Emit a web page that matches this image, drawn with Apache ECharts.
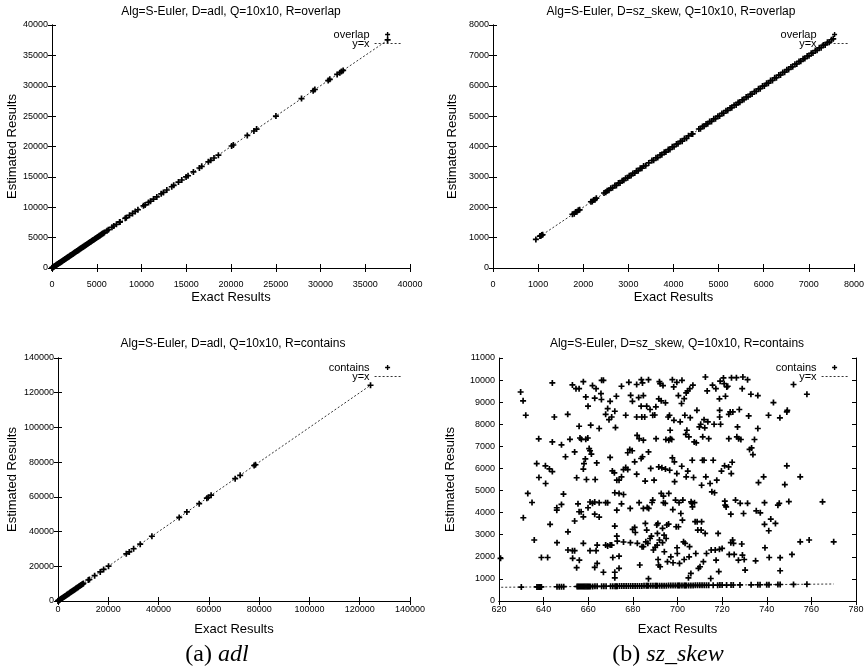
<!DOCTYPE html>
<html><head><meta charset="utf-8">
<script src="https://cdn.jsdelivr.net/npm/echarts@6/dist/echarts.min.js"></script>
<style>html,body{margin:0;padding:0;background:#fff}#c{width:867px;height:671px}</style>
</head><body><div id="c"></div>
<script>
// ---------- DATA ----------
const titles = [
  'Alg=S-Euler, D=adl, Q=10x10, R=overlap',
  'Alg=S-Euler, D=sz_skew, Q=10x10, R=overlap',
  'Alg=S-Euler, D=adl, Q=10x10, R=contains',
  'Alg=S-Euler, D=sz_skew, Q=10x10, R=contains'
];
const seriesNames = ['overlap', 'overlap', 'contains', 'contains'];
const refName = 'y=x';
const xName = 'Exact Results';
const yName = 'Estimated Results';
const captionA = ['(a) ', 'adl'];
const captionB = ['(b) ', 'sz_skew'];

// axis ranges [min, max, interval]
const xRanges = [[0, 40000, 5000], [0, 8000, 1000], [0, 140000, 20000], [620, 780, 20]];
const yRanges = [[0, 40000, 5000], [0, 8000, 1000], [0, 140000, 20000], [0, 11000, 1000]];

// y=x reference line extents (x from, x to)
const refAdlOverlap = [0, 37500];
const refSzOverlap = [950, 7540];
const refAdlContains = [0, 124300];
const refSzContains = [621, 770];

// (exact, estimated)
const adlOverlap = [[0,0],[40,50],[90,80],[150,160],[210,200],[260,270],[320,310],[380,390],[450,440],[510,520],[570,560],[640,650],[700,690],[770,780],[830,820],[900,910],[960,950],[1030,1040],[1100,1090],[1160,1170],[1230,1220],[1300,1310],[1370,1360],[1430,1440],[1500,1490],[1570,1580],[1640,1630],[1710,1720],[1780,1770],[1850,1860],[1920,1910],[2000,2010],[2070,2060],[2140,2150],[2210,2200],[2290,2300],[2360,2350],[2430,2440],[2510,2500],[2580,2590],[2650,2640],[2730,2740],[2800,2790],[2880,2890],[2950,2940],[3030,3040],[3100,3090],[3180,3190],[3250,3240],[3330,3340],[3410,3400],[3480,3490],[3560,3550],[3640,3650],[3720,3710],[3790,3800],[3870,3860],[3950,3960],[4030,4020],[4110,4120],[4190,4180],[4270,4280],[4350,4340],[4430,4440],[4520,4510],[4600,4610],[4680,4670],[4770,4780],[4850,4840],[4940,4950],[5020,5010],[5110,5120],[5200,5190],[5290,5300],[5380,5370],[5470,5480],[5560,5550],[5650,5660],[5750,5740],[5850,5860],[6150,6140],[6300,6310],[6700,6690],[6900,6910],[7200,7190],[7550,7560],[7600,7590],[8180,8190],[8300,8290],[8660,8670],[9000,8990],[9300,9310],[9600,9590],[10220,10230],[10400,10390],[10780,10790],[11000,10990],[11340,11350],[11710,11700],[12200,12210],[12450,12440],[12830,12840],[13380,13370],[13600,13610],[14130,14140],[14500,14490],[14980,14990],[15200,15190],[15800,15810],[16470,16460],[16730,16740],[17470,17480],[17730,17720],[18100,18110],[18590,18580],[20070,20080],[20260,20250],[21820,21830],[22560,22550],[22860,22870],[25020,25010],[27880,27890],[29180,29170],[29370,29380],[30860,30850],[31040,31050],[31860,31870],[32160,32150],[32340,32350],[32530,32520],[37500,37550]];

const szOverlap = [[950,940],[1040,1050],[1060,1055],[1080,1085],[1100,1095],[1760,1770],[1800,1790],[1830,1840],[1860,1855],[1890,1900],[1920,1915],[2170,2180],[2200,2190],[2230,2240],[2260,2250],[2290,2300],[2460,2470],[2500,2490],[2530,2545],[2570,2560],[2610,2625],[2650,2640],[2700,2715],[2735,2720],[2780,2795],[2815,2800],[2862,2875],[2900,2885],[2938,2955],[2985,2970],[3020,3040],[3061,3045],[3098,3115],[3142,3125],[3180,3200],[3219,3205],[3263,3280],[3300,3285],[3338,3355],[3384,3370],[3452,3460],[3522,3540],[3560,3545],[3612,3630],[3651,3635],[3703,3720],[3742,3730],[3795,3810],[3832,3815],[3884,3900],[3921,3905],[3973,3990],[4012,3995],[4066,4080],[4101,4090],[4155,4170],[4192,4175],[4243,4260],[4288,4270],[4332,4350],[4400,4412],[4425,4415],[4562,4575],[4598,4585],[4643,4660],[4678,4665],[4722,4740],[4760,4750],[4802,4820],[4843,4825],[4893,4910],[4931,4915],[4984,5000],[5022,5005],[5073,5090],[5112,5095],[5163,5180],[5201,5185],[5254,5270],[5292,5275],[5343,5360],[5388,5370],[5432,5450],[5471,5455],[5523,5540],[5562,5545],[5611,5630],[5652,5635],[5704,5720],[5741,5725],[5793,5810],[5833,5815],[5884,5900],[5922,5905],[5973,5990],[6013,5995],[6064,6080],[6102,6085],[6152,6170],[6193,6175],[6243,6260],[6281,6265],[6334,6350],[6372,6355],[6422,6440],[6463,6445],[6512,6530],[6551,6535],[6603,6620],[6642,6625],[6691,6710],[6733,6715],[6782,6800],[6821,6805],[6872,6890],[6911,6895],[6962,6980],[7003,6985],[7052,7070],[7091,7075],[7143,7160],[7182,7165],[7231,7250],[7272,7255],[7322,7340],[7361,7345],[7412,7430],[7451,7435],[7500,7515],[7540,7545]];

const adlContains = [[0,0],[150,170],[350,330],[600,620],[850,830],[1100,1130],[1400,1380],[1700,1720],[2000,1980],[2300,2330],[2600,2570],[2900,2930],[3200,3180],[3500,3530],[3800,3770],[4100,4130],[4400,4380],[4700,4730],[5000,4970],[5300,5330],[5600,5580],[5900,5930],[6200,6170],[6500,6530],[6800,6780],[7100,7130],[7400,7370],[7700,7730],[8000,7980],[8300,8330],[8600,8570],[8900,8930],[9200,9180],[9500,9530],[9800,9770],[10100,10120],[12050,12100],[12500,12400],[14570,14600],[16800,16750],[18150,18200],[20100,20050],[27150,27200],[28350,28300],[30070,30100],[32700,32750],[37350,37300],[48200,48150],[51250,51300],[56150,56100],[59200,59250],[59730,59700],[60900,60950],[70460,70500],[72450,72400],[78000,78050],[78540,78500],[124300,124300]];

const szContains = [[620.7,1930],[629.7,9460],[630.8,9060],[630.9,3770],[632,8410],[632.9,4870],[634.8,4460],[635.8,2760],[636.9,6220],[637.8,7340],[637.9,5590],[639,1970],
[640.8,6120],[640.9,5320],[641.8,1970],[642.6,5980],[642.9,3470],[643.9,5860],[643.9,7200],[643.9,9870],[644.8,8330],[645.9,4220],[645.9,4110],[646,2640],[648,4370],[648,7070],[648.9,4840],[649.8,6530],[650.8,8450],[650.9,3130],[650.9,2310],[651.8,7320],[652.9,9780],[652.9,2280],[653,1930],[653.9,2280],[653.9,3620],[653.9,6750],[654.5,9610],[654.8,5580],[654.8,1510],[655.4,4400],[655.9,9610],[655.9,7910],[655.9,4040],[656,1850],[656.3,7380],[656.9,7320],[656.8,4040],[657.8,9930],[657.8,2610],[657.8,3810],[657.8,5970],[658.1,6220],[658.7,6430],[658.9,9240],[658.9,7320],[659.2,5500],[659.8,7380],[659.9,8820],[659.9,4220],
[660.4,6900],[660.8,6800],[660.8,4480],[660.8,2280],[661.1,7960],[661.4,6650],[661.9,9750],[661.9,4420],[662.9,9180],[662.9,4480],[662.9,3930],[662.9,1520],[663.1,5500],[663.5,9610],[663.5,2280],[663.8,6250],[664,2530],[664,1700],[664.9,7810],[664.9,4450],[664.9,3800],[665.7,9390],[665.9,9120],[666,9990],[666.8,9990],[666.8,1300],[667.8,8450],[667.8,4450],[667.8,2530],[668.7,8710],[668.7,4450],[668.7,2490],[669.3,8210],[669.8,9040],[669.8,6500],[669.8,2530],[670.5,8330],[670.5,2530],[670.8,5890],[671,1970],[671.7,5800],[671.9,8590],[671.9,4900],[671.9,3390],[671.9,1300],[671.9,1050],[672.2,7850],[672.6,9270],[672.8,5470],[672.8,4110],[672.8,2940],[673,2710],[673.8,5470],[673.8,4870],[673.8,2030],[673.8,1480],[674.9,9720],[674.9,5620],[674.9,4400],[675.8,5950],[675.8,4820],[675.8,2670],[676.8,8410],[676.8,6040],[677.7,6710],[677.7,5950],[678.2,9900],[678.6,6860],[678.8,4190],[678.9,2640],[679,9310],[679.7,6800],[679.8,9040],[679.9,3240],
[680.8,6300],[680.8,3330],[681.1,3100],[681.7,9800],[681.7,8330],[681.7,5740],[681.9,7500],[682,2610],[682.6,9210],[682.8,7350],[682.8,4450],[683.1,1630],[683.7,8820],[683.7,6450],[683.8,10020],[684,8330],[684.1,2460],[684.3,9870],[684.3,6530],[684.7,9300],[684.7,7280],[684.7,4190],[684.7,2460],[685.3,8330],[685.5,5430],[685.6,3510],[685.8,2680],[686.2,8820],[686.2,3210],[686.4,4230],[686.7,2610],[687,10020],[687,6750],[687,1010],[687.1,4190],[687.7,8670],[687.7,2830],[688,6000],[688.3,2940],[688.6,4460],[688.9,8410],[688.9,4570],[689.2,2310],[689.5,5470],[689.8,8420],[690,2430],[690.3,8790],[690.4,7350],[690.7,3440],[690.9,2530],[691,3060],[691.2,3510],[691.3,1880],[691.5,1630],[691.6,9150],[691.6,6070],[691.9,9930],[691.9,2760],[692.2,9840],[692.2,1550],[692.7,9060],[692.7,4870],[693,6030],[693.3,3290],[693.3,2640],[693.5,9750],[693.7,4750],[693.7,4450],[694,2980],[694.1,2230],[694.5,4420],[694.6,8970],[694.6,5970],[694.8,7310],[694.9,2830],[695.2,3440],[695.5,1780],[695.8,8330],[696,3480],[696.1,7280],[696.1,4870],[696.4,8410],[696.5,5920],[696.7,7730],[696.8,7350],[697,2000],[697.4,7310],[697.7,10020],[697.7,6480],[697.9,4140],[698,1730],[698.3,9690],[698.4,8180],[698.6,6300],[698.7,5400],[699.1,4570],[699.4,3360],[699.7,9900],[699.7,5770],[699.8,2410],[699.9,2150],
[700.4,9300],[700.4,3360],[700.7,4450],[700.9,1700],[701.2,8110],[701.5,3960],[701.8,8940],[701.9,6100],[702,9990],[702.2,3660],[702.4,4570],[702.7,2680],[703,9160],[703,1880],[703.3,8410],[703.4,2610],[703.7,7540],[703.9,9420],[703.9,5620],[704.2,7730],[704.5,9510],[704.6,5880],[704.9,1050],[705.1,7430],[705.2,2000],[705.4,2460],[705.5,9610],[705.7,8300],[706,1250],[706.1,4490],[706.4,4420],[706.6,6370],[706.7,4260],[706.9,9770],[707.2,5590],[707.5,7200],[707.6,4450],[707.9,3590],[708.2,2150],[708.4,7160],[708.7,8630],[708.8,3590],[709.1,3210],[709.4,1480],[709.8,7880],[710.1,1550],[710.4,8000],[710.6,3210],[710.8,5240],[710.8,3590],[711.2,6370],[711.3,7430],[711.6,1780],[711.9,8210],[711.9,6370],[712.2,7840],[712.4,3060],[712.5,10140],[712.7,5620],[713,2150],[713.3,9510],[713.6,8110],[714,7350],[714.6,5320],[714.9,1020],[715.1,2310],[715.4,4940],[715.7,9770],[716,6370],[716.4,8000],[716.6,4900],[716.9,2310],[717.2,9610],[717.3,1850],[717.6,5470],[718.2,3060],[718.5,1330],[718.8,9150],[718.8,2340],[718.9,8630],[718.9,8330],[719.1,9950],[719.3,8000],[719.7,5880],[720,2380],
[720.6,10100],[720.9,9840],[721.1,6120],[721.2,4520],[721.4,4340],[721.5,9270],[721.8,4260],[722.1,9690],[722.5,9720],[722.9,6070],[723,8450],[723,7350],[723.2,2110],[723.6,8560],[723.9,2640],[723.9,3930],[724.1,5770],[724.2,10110],[724.5,6280],[724.7,2760],[724.8,8560],[725.1,2610],[725.4,2110],[726,4570],[726.4,10110],[726.6,7430],[726.9,7880],[727.3,1850],[727.4,7350],[727.7,8670],[728.1,4420],[728.4,7310],[728.8,2580],[729,9610],[729.1,2080],[729.3,10140],[729.6,3960],[729.9,1880],[730.3,1400],[731.4,10020],[731.4,4420],[731.9,8380],[732.3,6860],[732.9,9360],[733.2,6930],[733.8,6630],[734.5,7310],[735,1820],[735.3,4080],[736,9300],[736,7810],[736.3,5360],[737.1,3990],[738.6,5620],[739,3470],[739,4450],[739.2,2410],
[740.8,8410],[740.9,3180],[741.1,1970],[741.8,3710],[743,8980],[743.9,3510],[745,4340],[745.6,4420],[745.9,8290],[746,1960],[746,1370],[748.1,5270],[749,8560],[749.2,8630],[749,6120],[749.9,4500],[751.3,2110],[752,9800],[755,5620],[755,2680],[758,9360],[759,2760],[765,4490],[770,2680],
[630,630],[637,637],[637.5,638],[638,638],[638.5,639],[639,639],[646,646],[647,647],[648,648],[649,649],[655,655],[655.5,656],[656,656],[656.5,657],[657,657],[657.5,658],[658,658],[658.5,659],[659,659],[659.5,660],[660,660],[660.5,661],[661,661],[662,662],[663,663],[664,664],[666,666],[667,667],[668,668],[670,670],[671,671],[672,672],[672.5,673],[673,673],[674,674],[675,675],[676,676],[677,677],[678,678],[679,679],[680,680],[681,681],[682,682],[683,683],[684,684],[685,685],[686,686],[686.5,687],[687,687],[688,688],[689,689],[690,690],[690.5,691],[691,691],[692,692],[693,693],[694,694],[695,695],[696,696],[697,697],[698,698],[699,699],[700,700],[700.5,701],[701,701],[702,702],[703,703],[703.5,704],[704,704],[705,705],[706,706],[707,707],[708,708],[709,709],[710,710],[711,711],[712,712],[713,713],[714,714],[716,716],[718,718],[719,719],[720,720],[722,722],[724,724],[725,725],[728,728],[733,733],[736,736],[737,737],[740,740],[741,741],[745,745],[746,746],[752,752],[758,758]];

const pointSets = [adlOverlap, szOverlap, adlContains, szContains];
const refSets = [refAdlOverlap, refSzOverlap, refAdlContains, refSzContains];

// ---------- LAYOUT / STYLE ----------
const FONT = '"Liberation Sans", Arial, Helvetica, sans-serif';
const SERIF = '"Liberation Serif", "Times New Roman", serif';
const PLUS = 'path://M3.6,0H6.4V3.6H10V6.4H6.4V10H3.6V6.4H0V3.6H3.6Z';
const grids = [
  {left: 52, top: 25, width: 358, height: 243},
  {left: 493, top: 25, width: 363, height: 243},
  {left: 58, top: 358, width: 352, height: 243},
  {left: 499, top: 358, width: 357, height: 243}
];
const xLabelMargin = [12, 12, 4, 4];
const xNameGap = [23, 23, 22, 22];
const yNameGap = [33, 34, 39, 42];
const markSize = [6, 6, 6, 6];
const legendPos = [
  {right: 466, top: 29}, {right: 19, top: 29}, {right: 466, top: 362}, {right: 19, top: 362}
];
const titlePos = [[231, 12], [671, 12], [233, 344], [677, 344]];

const lbl = v => String(v);
const xAxes = [], yAxes = [], series = [], legends = [];
grids.forEach((g, i) => {
  const [xmin, xmax, xint] = xRanges[i];
  const [ymin, ymax, yint] = yRanges[i];
  const line = {show: true, lineStyle: {color: '#000', width: 1}};
  const tick = {show: true, inside: true, length: 4, lineStyle: {color: '#000', width: 1}};
  xAxes.push({
    type: 'value', gridIndex: i, position: 'bottom', min: xmin, max: xmax, interval: xint,
    name: xName, nameLocation: 'middle', nameGap: xNameGap[i],
    nameTextStyle: {fontFamily: FONT, fontSize: 13, color: '#000'},
    axisLine: line, axisTick: tick, splitLine: {show: false},
    axisLabel: {formatter: lbl, fontFamily: FONT, fontSize: 9, color: '#000', margin: xLabelMargin[i]}
  });
  xAxes.push({
    type: 'value', gridIndex: i, position: 'top', min: xmin, max: xmax, interval: xint,
    axisLine: line, axisTick: tick, splitLine: {show: false}, axisLabel: {show: false}
  });
  yAxes.push({
    type: 'value', gridIndex: i, position: 'left', min: ymin, max: ymax, interval: yint,
    name: yName, nameLocation: 'middle', nameGap: yNameGap[i],
    nameTextStyle: {fontFamily: FONT, fontSize: 13, color: '#000'},
    axisLine: line, axisTick: tick, splitLine: {show: false},
    axisLabel: {formatter: lbl, fontFamily: FONT, fontSize: 9, color: '#000', margin: 4}
  });
  yAxes.push({
    type: 'value', gridIndex: i, position: 'right', min: ymin, max: ymax, interval: yint,
    axisLine: line, axisTick: tick, splitLine: {show: false}, axisLabel: {show: false}
  });
  series.push({
    type: 'scatter', name: seriesNames[i], xAxisIndex: 2 * i, yAxisIndex: 2 * i,
    data: pointSets[i], symbol: PLUS, symbolSize: markSize[i], itemStyle: {color: '#000', opacity: 1},
    silent: true, animation: false, z: 3
  });
  series.push({
    type: 'line', name: refName, xAxisIndex: 2 * i, yAxisIndex: 2 * i,
    data: refSets[i].map(v => [v, v]), symbol: 'none', showSymbol: false,
    itemStyle: {color: '#000'},
    lineStyle: {color: '#000', width: 0.8, type: [2, 2]}, silent: true, animation: false, z: 2
  });
  legends.push(Object.assign({
    data: [
      {name: seriesNames[i], icon: PLUS, itemStyle: {color: '#000'}},
      {name: refName, itemStyle: {opacity: 0, color: 'transparent'}, lineStyle: {color: '#000', width: 0.8, type: [2, 2]}}
    ],
    orient: 'vertical', align: 'right',
    itemGap: -2, itemWidth: 26, itemHeight: 5, padding: 0, selectedMode: false,
    textStyle: {fontFamily: FONT, fontSize: 11, color: '#000', lineHeight: 10}
  }, legendPos[i]));
});

const graphic = titles.map((t, i) => ({
  type: 'text', x: titlePos[i][0], y: titlePos[i][1],
  style: {text: t, fontFamily: FONT, fontSize: 12, fill: '#000', align: 'center', verticalAlign: 'middle'}
}));
[[captionA, 217, 655], [captionB, 668, 655]].forEach(([c, x, y]) => {
  graphic.push({
    type: 'text', x: x, y: y,
    style: {
      text: '{n|' + c[0] + '}{i|' + c[1] + '}', align: 'center', verticalAlign: 'middle', fill: '#000',
      rich: {n: {fontFamily: SERIF, fontSize: 24, fill: '#000'}, i: {fontFamily: SERIF, fontSize: 24, fontStyle: 'italic', fill: '#000'}}
    }
  });
});

const chart = echarts.init(document.getElementById('c'), null, {renderer: 'canvas'});
chart.setOption({
  animation: false,
  backgroundColor: '#fff',
  grid: grids,
  xAxis: xAxes,
  yAxis: yAxes,
  legend: legends,
  series: series,
  graphic: graphic
});
</script></body></html>
